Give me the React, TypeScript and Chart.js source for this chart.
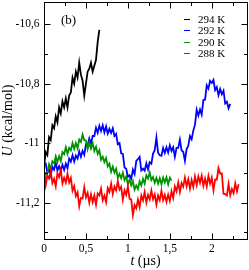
import React, { useEffect, useRef } from "react";
import { Chart, registerables } from "chart.js";

Chart.register(...registerables);

const T_STEP = 0.02; // µs between stored samples

const SERIES_LABELS = ["294 K", "292 K", "290 K", "288 K"];
const SERIES_COLORS = ["#000000", "#0000ff", "#009400", "#ff0000"];

const U_294 = [
  -11.08, -11.03, -11.04, -10.98, -10.99, -10.94, -10.95, -10.91, -10.93, -10.88,
  -10.9, -10.86, -10.88, -10.85, -10.88, -10.84, -10.83, -10.78, -10.8, -10.76,
  -10.78, -10.73, -10.77, -10.79, -10.84, -10.8, -10.76, -10.75, -10.73, -10.76,
  -10.74, -10.72, -10.66, -10.62,
];

const U_292 = [
  -11.07, -11.068, -11.1, -11.089, -11.109, -11.08, -11.089, -11.066, -11.092, -11.078,
  -11.093, -11.073, -11.09, -11.069, -11.084, -11.052, -11.062, -11.041, -11.062, -11.042,
  -11.052, -11.028, -11.046, -11.026, -11.039, -11.005, -11.009, -10.984, -11.002, -10.976,
  -10.976, -10.948, -10.965, -10.942, -10.959, -10.94, -10.964, -10.944, -10.968, -10.952,
  -10.966, -10.95, -10.976, -10.969, -11.004, -11.0, -11.034, -11.036, -11.082, -11.086,
  -11.113, -11.108, -11.12, -11.089, -11.104, -11.06, -11.054, -11.046, -11.092, -11.086,
  -11.093, -11.068, -11.088, -11.064, -11.069, -11.035, -11.024, -10.981, -11.032, -11.041,
  -11.043, -11.016, -11.033, -11.014, -11.032, -11.007, -11.026, -11.014, -11.046, -11.016,
  -11.016, -10.988, -11.025, -11.029, -11.059, -11.02, -11.009, -10.976, -10.987, -10.958,
  -10.938, -10.888, -10.907, -10.887, -10.904, -10.855, -10.854, -10.806, -10.817, -10.791,
  -10.798, -10.788, -10.822, -10.812, -10.839, -10.818, -10.836, -10.824, -10.867, -10.861,
  -10.883, -10.868,
];

const U_290 = [
  -11.17, -11.1, -11.099, -11.071, -11.087, -11.061, -11.068, -11.044, -11.063, -11.044,
  -11.06, -11.03, -11.037, -11.014, -11.036, -11.016, -11.024, -11.0, -11.019, -11.0,
  -11.017, -10.988, -10.996, -10.971, -10.99, -10.991, -11.02, -10.998, -11.018, -11.0,
  -11.026, -11.012, -11.036, -11.024, -11.056, -11.046, -11.064, -11.05, -11.078, -11.069,
  -11.096, -11.079, -11.099, -11.086, -11.116, -11.103, -11.118, -11.1, -11.124, -11.112,
  -11.138, -11.122, -11.142, -11.128, -11.156, -11.142, -11.154, -11.128, -11.142, -11.12,
  -11.136, -11.108, -11.119, -11.099, -11.124, -11.114, -11.133, -11.117, -11.136, -11.118,
  -11.138, -11.116, -11.132, -11.115, -11.138, -11.116, -11.126,
];

const U_288 = [
  -11.11, -11.142, -11.109, -11.119, -11.093, -11.134, -11.12, -11.145, -11.101, -11.114,
  -11.09, -11.135, -11.116, -11.133, -11.103, -11.132, -11.117, -11.16, -11.144, -11.178,
  -11.165, -11.212, -11.184, -11.186, -11.148, -11.182, -11.167, -11.2, -11.172, -11.198,
  -11.176, -11.207, -11.169, -11.176, -11.153, -11.192, -11.176, -11.198, -11.151, -11.164,
  -11.136, -11.171, -11.146, -11.159, -11.128, -11.156, -11.147, -11.19, -11.158, -11.174,
  -11.145, -11.187, -11.189, -11.241, -11.208, -11.219, -11.19, -11.215, -11.176, -11.192,
  -11.164, -11.199, -11.174, -11.189, -11.159, -11.188, -11.172, -11.206, -11.176, -11.192,
  -11.16, -11.192, -11.174, -11.197, -11.173, -11.194, -11.162, -11.184, -11.146, -11.162,
  -11.132, -11.164, -11.134, -11.146, -11.116, -11.145, -11.121, -11.153, -11.124, -11.147,
  -11.112, -11.141, -11.112, -11.133, -11.109, -11.143, -11.119, -11.145, -11.11, -11.136,
  -11.116, -11.158, -11.122, -11.123, -11.084, -11.102, -11.102, -11.17, -11.171, -11.176,
  -11.137, -11.175, -11.154, -11.168, -11.135, -11.162, -11.138,
];

const SERIES_VALUES = [U_294, U_292, U_290, U_288];

const X_MIN = 0;
const X_MAX = 2.42;
const Y_MIN = -11.322;
const Y_MAX = -10.526;
const X_MAJOR = [0, 0.5, 1, 1.5, 2];
const X_TICK_LABELS = ["0", "0,5", "1", "1,5", "2"];
const X_MINOR = [0.25, 0.75, 1.25, 1.75, 2.25];
const Y_MAJOR = [-11.2, -11, -10.8, -10.6];
const Y_TICK_LABELS = ["-11,2", "-11", "-10,8", "-10,6"];
const Y_MINOR = [-11.3, -11.1, -10.9, -10.7];

const PANEL_LABEL = "(b)";
const X_TITLE_VAR = "t";
const X_TITLE_UNIT = " (\u00b5s)";
const Y_TITLE_VAR = "U";
const Y_TITLE_UNIT = " (kcal/mol)";

const FONT = '"Liberation Serif", "Times New Roman", serif';

const framePlugin = {
  id: "framePlugin",
  afterDraw(chart: any) {
    const { ctx, chartArea: a, scales } = chart;
    const xs = scales.x;
    const ys = scales.y;
    const L = Math.round(a.left) + 0.5;
    const R = Math.round(a.right) + 0.5;
    const T = Math.round(a.top) + 0.5;
    const B = Math.round(a.bottom) + 0.5;
    ctx.save();
    ctx.strokeStyle = "#000";
    ctx.lineWidth = 1;
    ctx.strokeRect(L, T, R - L, B - T);
    ctx.beginPath();
    const tickX = (v: number, len: number) => {
      const p = Math.round(xs.getPixelForValue(v)) + 0.5;
      ctx.moveTo(p, B);
      ctx.lineTo(p, B - len);
      ctx.moveTo(p, T);
      ctx.lineTo(p, T + len);
    };
    const tickY = (v: number, len: number) => {
      const p = Math.round(ys.getPixelForValue(v)) + 0.5;
      ctx.moveTo(L, p);
      ctx.lineTo(L + len, p);
      ctx.moveTo(R, p);
      ctx.lineTo(R - len, p);
    };
    X_MAJOR.forEach((v) => tickX(v, 6));
    X_MINOR.forEach((v) => tickX(v, 3.5));
    Y_MAJOR.forEach((v) => tickY(v, 6));
    Y_MINOR.forEach((v) => tickY(v, 3.5));
    ctx.stroke();

    ctx.fillStyle = "#000";
    ctx.textBaseline = "alphabetic";
    ctx.textAlign = "left";

    // panel label
    ctx.font = `13px ${FONT}`;
    ctx.fillText(PANEL_LABEL, a.left + 17, a.top + 22);

    // x title
    ctx.font = `italic 14px ${FONT}`;
    const xw1 = ctx.measureText(X_TITLE_VAR).width;
    ctx.font = `14px ${FONT}`;
    const xw2 = ctx.measureText(X_TITLE_UNIT).width;
    const xc = (a.left + a.right) / 2;
    const xs0 = xc - (xw1 + xw2) / 2;
    ctx.font = `italic 14px ${FONT}`;
    ctx.fillText(X_TITLE_VAR, xs0, 265);
    ctx.font = `14px ${FONT}`;
    ctx.fillText(X_TITLE_UNIT, xs0 + xw1, 265);

    // y title
    ctx.save();
    ctx.translate(12, (a.top + a.bottom) / 2);
    ctx.rotate(-Math.PI / 2);
    ctx.font = `italic 14px ${FONT}`;
    const yw1 = ctx.measureText(Y_TITLE_VAR).width;
    ctx.font = `14px ${FONT}`;
    const yw2 = ctx.measureText(Y_TITLE_UNIT).width;
    const ys0 = -(yw1 + yw2) / 2;
    ctx.font = `italic 14px ${FONT}`;
    ctx.fillText(Y_TITLE_VAR, ys0, 0);
    ctx.font = `14px ${FONT}`;
    ctx.fillText(Y_TITLE_UNIT, ys0 + yw1, 0);
    ctx.restore();

    // legend
    ctx.font = `11px ${FONT}`;
    ctx.textBaseline = "middle";
    ctx.lineWidth = 1;
    SERIES_LABELS.forEach((lab, i) => {
      const cy = Math.round(a.top + 17 + i * 11.4) + 0.5;
      ctx.strokeStyle = SERIES_COLORS[i];
      ctx.beginPath();
      ctx.moveTo(184, cy);
      ctx.lineTo(190, cy);
      ctx.stroke();
      ctx.fillStyle = "#000";
      ctx.fillText(lab, 198, cy + 0.5);
    });
    ctx.restore();
  },
};

export default function App() {
  const canvasRef = useRef<HTMLCanvasElement | null>(null);

  useEffect(() => {
    const canvas = canvasRef.current;
    if (!canvas) return;
    const datasets = SERIES_VALUES.map((vals, i) => ({
      label: SERIES_LABELS[i],
      data: vals.map((u, k) => ({ x: k * T_STEP, y: u })),
      borderColor: SERIES_COLORS[i],
      backgroundColor: SERIES_COLORS[i],
      borderWidth: 1.8,
      borderJoinStyle: "miter",
      pointRadius: 0,
      tension: 0,
      fill: false,
      order: SERIES_VALUES.length - 1 - i,
    }));
    const resetPad = (s: any) => {
      s.paddingTop = 0;
      s.paddingBottom = 0;
      s.paddingLeft = 0;
      s.paddingRight = 0;
    };
    const chart = new Chart(canvas, {
      type: "line",
      data: { datasets },
      options: {
        animation: false,
        responsive: false,
        devicePixelRatio: 1,
        layout: { padding: { top: 2, right: 2, left: 0, bottom: 0 } },
        plugins: { legend: { display: false }, tooltip: { enabled: false } },
        scales: {
          x: {
            type: "linear",
            min: X_MIN,
            max: X_MAX,
            grid: { display: false, drawTicks: false },
            border: { display: false },
            afterBuildTicks: (s: any) => {
              s.ticks = X_MAJOR.map((v) => ({ value: v }));
            },
            afterFit: (s: any) => {
              s.height = 31;
              resetPad(s);
            },
            ticks: {
              autoSkip: false,
              maxRotation: 0,
              padding: 3,
              color: "#000",
              font: { family: FONT, size: 11.5 },
              callback: (v: any) => {
                const idx = X_MAJOR.findIndex((m) => Math.abs(m - Number(v)) < 1e-6);
                return idx >= 0 ? X_TICK_LABELS[idx] : "";
              },
            },
          },
          y: {
            type: "linear",
            min: Y_MIN,
            max: Y_MAX,
            grid: { display: false, drawTicks: false },
            border: { display: false },
            afterBuildTicks: (s: any) => {
              s.ticks = Y_MAJOR.map((v) => ({ value: v }));
            },
            afterFit: (s: any) => {
              s.width = 44;
              resetPad(s);
            },
            ticks: {
              autoSkip: false,
              padding: 4.5,
              color: "#000",
              font: { family: FONT, size: 11.5 },
              callback: (v: any) => {
                const idx = Y_MAJOR.findIndex((m) => Math.abs(m - Number(v)) < 1e-6);
                return idx >= 0 ? Y_TICK_LABELS[idx] : "";
              },
            },
          },
        },
      },
      plugins: [framePlugin],
    } as any);
    return () => chart.destroy();
  }, []);

  return (
    <div style={{ position: "fixed", left: 0, top: 0, width: 249, height: 270, background: "#fff" }}>
      <canvas ref={canvasRef} width={249} height={270} style={{ width: 249, height: 270, display: "block" }} />
    </div>
  );
}
